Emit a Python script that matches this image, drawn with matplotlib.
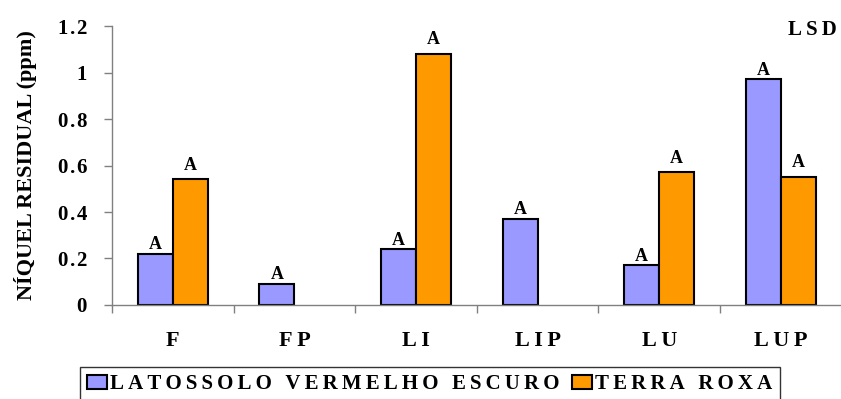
import numpy as np
import matplotlib
matplotlib.use("Agg")
import matplotlib.pyplot as plt

plt.rcParams['font.family'] = ['Liberation Serif', 'DejaVu Serif']
plt.rcParams['font.weight'] = 'bold'

# residual nickel per treatment, two soils
treatments = ["F", "FP", "LI", "LIP", "LU", "LUP"]
latossolo = [0.22, 0.09, 0.24, 0.37, 0.17, 0.97]
terra_roxa = [0.54, np.nan, 1.08, np.nan, 0.57, 0.55]
letters_lve = ["A", "A", "A", "A", "A", "A"]
letters_tr = ["A", "", "A", "", "A", "A"]
yticks = [0, 0.2, 0.4, 0.6, 0.8, 1, 1.2]
series_names = ["LATOSSOLO VERMELHO ESCURO", "TERRA ROXA"]

PURPLE = "#9999FF"
ORANGE = "#FF9900"
GREY = "#808080"
THIN = "\u2009"
HAIR = "\u200a"


def spaced(s, gap=THIN):
    # expanded character spacing
    return (gap + " " + gap).join(gap.join(w) for w in s.split(" "))


fig = plt.figure(figsize=(8.41, 3.99), dpi=100)
ax = fig.add_axes([0.1332, 0.2356, 0.8675, 0.6992])

x = np.arange(len(treatments)) + 0.5
w = 0.288
ax.bar(x - w / 2, latossolo, w, color=PURPLE, edgecolor="black", linewidth=1.5,
       label=spaced(series_names[0]))
ax.bar(x + w / 2, terra_roxa, w, color=ORANGE, edgecolor="black", linewidth=1.5,
       label=spaced(series_names[1]))

for xi, v, t in zip(x - w / 2, latossolo, letters_lve):
    if t and not np.isnan(v):
        ax.text(xi, v + 0.003, t, ha="center", va="bottom", fontsize=13, fontweight="bold")
for xi, v, t in zip(x + w / 2, terra_roxa, letters_tr):
    if t and not np.isnan(v):
        ax.text(xi, v + 0.025, t, ha="center", va="bottom", fontsize=13, fontweight="bold")

ax.set_xlim(0, len(treatments))
ax.set_ylim(0, 1.2)

ax.set_xticks(np.arange(len(treatments) + 1))
ax.set_xticklabels([])
ax.set_xticks(x, minor=True)
ax.set_xticklabels([spaced(t) for t in treatments], minor=True, fontsize=16, fontweight="bold")
ax.tick_params(axis="x", which="major", direction="out", length=6, color=GREY, width=1)
ax.tick_params(axis="x", which="minor", length=0, pad=19)

ax.set_yticks(yticks)
ax.set_yticklabels([spaced("{:g}".format(t), HAIR) for t in yticks], fontsize=15, fontweight="bold")
ax.tick_params(axis="y", direction="out", length=6, color=GREY, width=1, pad=12)

for s in ["top", "right"]:
    ax.spines[s].set_visible(False)
for s in ["left", "bottom"]:
    ax.spines[s].set_color(GREY)
    ax.spines[s].set_linewidth(1)

ax.set_ylabel("NÍQUEL RESIDUAL (ppm)", fontsize=16, fontweight="bold")
ax.yaxis.set_label_coords(-0.103, 0.5)

fig.text(837 / 841, 1 - 30 / 399, spaced("LSD"), ha="right", va="center",
         fontsize=15, fontweight="bold")

leg = fig.legend(loc="upper left", bbox_to_anchor=(80 / 841, 1 - 367 / 399), ncol=2,
                 fontsize=15, frameon=True, fancybox=False, edgecolor="black",
                 handlelength=0.95, handleheight=0.65, handletextpad=0.15,
                 columnspacing=0.6, borderpad=0.35, borderaxespad=0)
leg.get_frame().set_linewidth(1)
for t in leg.get_texts():
    t.set_fontweight("bold")

fig.savefig("out.png", dpi=100)
